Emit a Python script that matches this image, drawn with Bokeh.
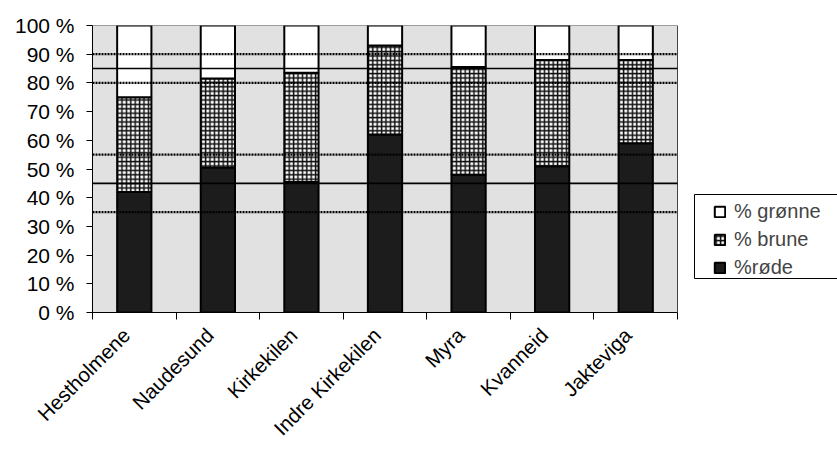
import numpy as np
from bokeh.plotting import figure
from bokeh.models import (Range1d, FixedTicker, Legend, LegendItem,
                          ColumnDataSource, BoxAnnotation)
from bokeh.embed import file_html
from bokeh.resources import INLINE

# ---- data ----
categories = ["Hestholmene", "Naudesund", "Kirkekilen", "Indre Kirkekilen",
              "Myra", "Kvanneid", "Jakteviga"]
rode = [42, 50.5, 45.5, 62, 48, 51, 59]
brune = [33, 31, 38, 31, 37.5, 37, 29]
gronne = [25, 18.5, 16.5, 7, 14.5, 12, 12]
series_labels = ["%røde", "% brune", "% grønne"]
y_ticks = [0, 10, 20, 30, 40, 50, 60, 70, 80, 90, 100]
y_tick_labels = ["0 %", "10 %", "20 %", "30 %", "40 %", "50 %", "60 %",
                 "70 %", "80 %", "90 %", "100 %"]
solid_levels = [45, 85]
dotted_levels = [35, 55, 80, 90]

FONT = "Liberation Sans"

W, H = 837, 450
LEFT, TOP, BOTTOM = 92, 25, 137
PLOT_W = 585          # width of the grey plotting area in px

n = len(categories)
frame_w = W - LEFT
x_end = n * frame_w / PLOT_W
px = n / PLOT_W       # data units per pixel

x = np.arange(n) + 0.5
r = np.array(rode, dtype=float)
b = np.array(brune, dtype=float)
g = np.array(gronne, dtype=float)
src = ColumnDataSource(dict(
    x=x,
    r0=np.zeros(n), r1=r,
    b0=r, b1=r + b,
    g0=r + b, g1=r + b + g,
))

p = figure(width=W, height=H, x_range=Range1d(0, x_end), y_range=Range1d(0, 100),
           output_backend="svg", toolbar_location=None,
           min_border_left=LEFT, min_border_right=0,
           min_border_top=TOP, min_border_bottom=BOTTOM)
p.background_fill_color = "white"
p.border_fill_color = "white"
p.grid.visible = False
p.outline_line_color = None

# grey plotting area
p.quad(left=[0], right=[n], bottom=[y_ticks[0]], top=[y_ticks[-1]],
       fill_color="#e1e1e1", line_color="#444444", line_width=1)

bw = 0.41
rr = p.vbar(x="x", bottom="r0", top="r1", width=bw, source=src,
            fill_color="#1c1c1c", line_color="black", line_width=2)
rb = p.vbar(x="x", bottom="b0", top="b1", width=bw, source=src,
            fill_color="white", line_color="black", line_width=2,
            hatch_pattern="cross", hatch_color="#111111", hatch_scale=4.4,
            hatch_weight=1.5)
rg = p.vbar(x="x", bottom="g0", top="g1", width=bw, source=src,
            fill_color="white", line_color="black", line_width=2)

p.segment(x0=[0] * len(solid_levels), x1=[n] * len(solid_levels),
          y0=solid_levels, y1=solid_levels, line_color="black", line_width=1.6)
p.segment(x0=[0] * len(dotted_levels), x1=[n] * len(dotted_levels),
          y0=dotted_levels, y1=dotted_levels, line_color="black",
          line_width=2.2, line_dash="2 1")

# y axis
p.yaxis.ticker = FixedTicker(ticks=y_ticks, minor_ticks=[])
p.yaxis.major_label_overrides = {t: l for t, l in zip(y_ticks, y_tick_labels)}
p.yaxis.major_label_text_font = FONT
p.yaxis.major_label_text_font_size = "21px"
p.yaxis.major_label_text_color = "black"
p.yaxis.major_tick_out = 6
p.yaxis.major_tick_in = 0
p.yaxis.major_tick_line_color = "black"
p.yaxis.major_label_standoff = 12
p.yaxis.axis_line_color = "black"

# x axis: labels near bar centres, tick marks at category boundaries
label_pos = [float(v) for v in (x - 8 * px)]
p.xaxis.bounds = (0, n)
p.xaxis.ticker = FixedTicker(ticks=label_pos, minor_ticks=list(range(n + 1)))
p.xaxis.major_label_overrides = {v: c for v, c in zip(label_pos, categories)}
p.xaxis.major_label_orientation = np.pi / 4
p.xaxis.major_label_text_font = FONT
p.xaxis.major_label_text_font_size = "20.5px"
p.xaxis.major_label_text_color = "black"
p.xaxis.major_label_standoff = 12
p.xaxis.minor_tick_out = 7
p.xaxis.minor_tick_in = 0
p.xaxis.minor_tick_line_color = "black"
p.xaxis.major_tick_line_color = None
p.xaxis.major_tick_out = 7
p.xaxis.axis_line_color = "black"

# legend frame + legend
p.add_layout(BoxAnnotation(left=602, right=745, bottom=34, top=118,
                           left_units="screen", right_units="screen",
                           bottom_units="screen", top_units="screen",
                           fill_color="white", fill_alpha=1,
                           line_color="black", line_width=1, line_alpha=1))
legend = Legend(items=[LegendItem(label=series_labels[2], renderers=[rg]),
                       LegendItem(label=series_labels[1], renderers=[rb]),
                       LegendItem(label=series_labels[0], renderers=[rr])],
                location=(621, 33), orientation="vertical",
                label_text_font=FONT, label_text_font_size="20px",
                glyph_width=13, glyph_height=13, label_standoff=8,
                label_height=20, spacing=5, padding=4, margin=0,
                border_line_color=None,
                background_fill_alpha=0)
p.add_layout(legend, "center")

open("out.html", "w").write(file_html(p, INLINE))
